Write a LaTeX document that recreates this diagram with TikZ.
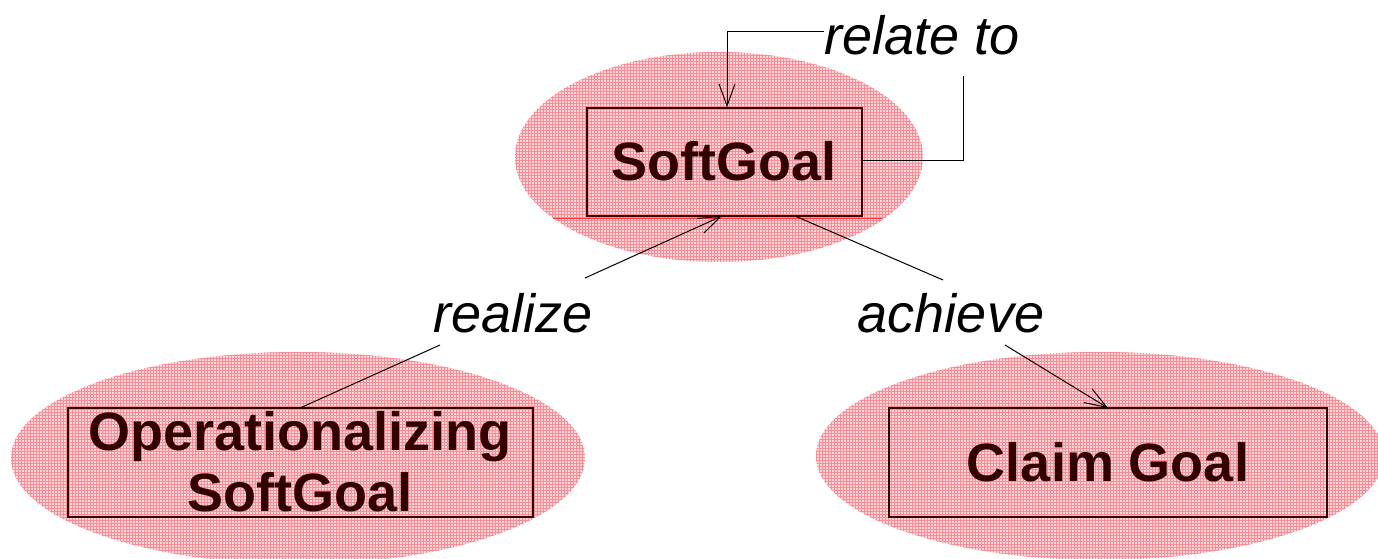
\documentclass[tikz,border=0pt]{standalone}
\usepackage{fontspec}
\setmainfont{Liberation Sans}
\usetikzlibrary{arrows.meta,patterns}
\definecolor{blobfill}{RGB}{255,214,218}
\definecolor{blobgrid}{RGB}{250,140,150}
\definecolor{inkred}{RGB}{50,0,0}
\tikzset{
  blob/.style={fill=blobfill, postaction={pattern=grid, pattern color=blobgrid}},
  goalbox/.style={draw=inkred, line width=1.3pt, fill=none},
  goaltext/.style={font=\fontsize{54}{60}\selectfont\bfseries, text=inkred, inner sep=0pt, anchor=base},
  rellabel/.style={font=\fontsize{54}{60}\selectfont\itshape, text=black, inner sep=0pt},
  link/.style={draw=black, line width=1pt},
  linkarrow/.style={link, -{Straight Barb[length=22pt,width=16pt,line width=1pt]}}
}
\begin{document}
\begin{tikzpicture}[x=1pt,y=-1pt]
\useasboundingbox (0,0) rectangle (1378,559);
% blobs
\path[blob] (719,157) ellipse [x radius=204, y radius=105];
\path[blob] (298,458) ellipse [x radius=287, y radius=106];
\path[blob] (1100,456) ellipse [x radius=284, y radius=104];
% boxes
\node[goalbox, minimum width=275pt, minimum height=108pt, inner sep=0pt] (sg) at (724.5,162) {};
\node[goalbox, minimum width=465pt, minimum height=109pt, inner sep=0pt] (op) at (300.5,462.5) {};
\node[goalbox, minimum width=438pt, minimum height=109pt, inner sep=0pt] (cg) at (1108,462.5) {};
\draw[draw=red!80, line width=0.8pt] (553,218) -- (882,218);
% texts
\node[goaltext] (sgt) at (724,180) {SoftGoal};
\node[goaltext] (opt1) at (300,450) {Operationalizing};
\node[goaltext] (opt2) at (300,511) {SoftGoal};
\node[goaltext] (cgt) at (1108,481) {Claim Goal};
% labels
\node[rellabel] (lrel) at (922,35) {relate to};
\node[rellabel] (lreal) at (513,313) {realize};
\node[rellabel] (lach) at (951,313) {achieve};
% relate to
\coordinate (rt1) at (963,160);
\coordinate (rt2) at (963,76);
\coordinate (rt3) at (727,32);
\draw[link] (sg.east |- rt1) -- (rt1) -- (rt2);
\draw[linkarrow] (lrel.west |- rt3) -- (rt3) -- (rt3 |- sg.north);
% realize
\coordinate (re1) at (300,408);
\coordinate (re2) at (440,345);
\coordinate (re3) at (585,278);
\coordinate (re4) at (722,216);
\draw[link] (re1) -- (re2);
\draw[linkarrow] (re3) -- (re4);
% achieve
\coordinate (ac1) at (795,216);
\coordinate (ac2) at (943,280);
\coordinate (ac3) at (1005,345);
\coordinate (ac4) at (1108,408);
\draw[link] (ac1) -- (ac2);
\draw[linkarrow] (ac3) -- (ac4);
\end{tikzpicture}
\end{document}
